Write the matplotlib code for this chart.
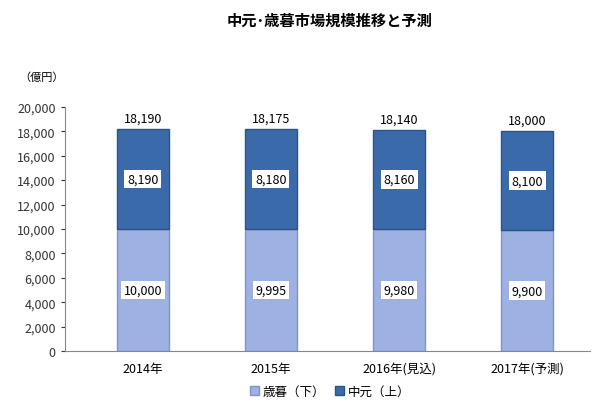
import matplotlib
matplotlib.use("Agg")
import matplotlib.pyplot as plt

plt.rcParams["font.family"] = "Noto Sans CJK JP"

categories = ["2014年", "2015年", "2016年(見込)", "2017年(予測)"]
seibo = [10000, 9995, 9980, 9900]
chugen = [8190, 8180, 8160, 8100]
totals = [18190, 18175, 18140, 18000]

fig = plt.figure(figsize=(6, 4.1), dpi=100)
ax = fig.add_axes([0.108, 0.141, 0.875, 0.596])
x = range(len(categories))
w = 0.4
ax.bar(x, seibo, w, color="#9db1e2", edgecolor="#7e95cc", linewidth=1, label="歳暮（下）")
ax.bar(x, chugen, w, bottom=seibo, color="#3b6aab", edgecolor="#2c528a", linewidth=1, label="中元（上）")
for i in x:
    ax.text(i, seibo[i] / 2, f"{seibo[i]:,}", ha="center", va="center", fontsize=9,
            bbox=dict(facecolor="white", edgecolor="none", pad=2))
    ax.text(i, seibo[i] + chugen[i] / 2, f"{chugen[i]:,}", ha="center", va="center", fontsize=9,
            bbox=dict(facecolor="white", edgecolor="none", pad=2))
    ax.text(i, totals[i] + 350, f"{totals[i]:,}", ha="center", va="bottom", fontsize=9)

ax.set_ylim(0, 20000)
ax.set_yticks(range(0, 20001, 2000))
ax.set_yticklabels([f"{v:,}" for v in range(0, 20001, 2000)], fontsize=9)
ax.set_xticks(list(x))
ax.set_xticklabels(categories, fontsize=9)
ax.set_xlim(-0.61, 3.49)
ax.spines["top"].set_visible(False)
ax.spines["right"].set_visible(False)
ax.spines["left"].set_color("#888888")
ax.spines["bottom"].set_color("#888888")
ax.tick_params(axis="x", length=0, pad=8)
ax.tick_params(axis="y", length=3, colors="#333333")

fig.text(0.55, 0.95, "中元･歳暮市場規模推移と予測", ha="center", va="center", fontsize=11, fontweight="bold")
fig.text(0.07, 0.81, "（億円）", ha="center", va="center", fontsize=8)
fig.legend(loc="lower center", bbox_to_anchor=(0.55, 0.0), ncol=2, frameon=False, fontsize=9,
           handlelength=0.7, handleheight=0.7, columnspacing=0.8, handletextpad=0.3)
fig.savefig("out.png", dpi=100)
